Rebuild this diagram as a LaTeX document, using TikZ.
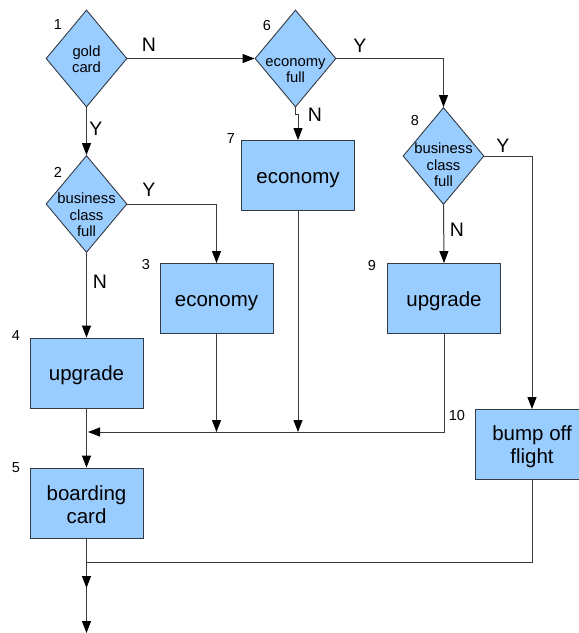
\documentclass[tikz,border=0pt]{standalone}
\usepackage{fontspec}
\setmainfont{Liberation Sans}
\usetikzlibrary{shapes.geometric,arrows.meta}
\definecolor{boxfill}{HTML}{99CCFF}
\definecolor{boxline}{HTML}{333A44}
\definecolor{conn}{HTML}{3A3A3A}
\tikzset{
  stepbox/.style={rectangle, draw=boxline, line width=0.9pt, fill=boxfill,
    minimum width=113pt, minimum height=70pt, inner sep=0pt},
  btext/.style={align=center, inner sep=0pt, font=\fontsize{20.5}{23}\selectfont},
  decision/.style={diamond, draw=boxline, line width=0.9pt, fill=boxfill,
    minimum width=81pt, minimum height=97pt, inner sep=0pt},
  dtext/.style={align=center, inner sep=0pt, font=\fontsize{14.8}{16.3}\selectfont},
  numlbl/.style={inner sep=0pt, font=\fontsize{14.5}{16}\selectfont},
  yn/.style={inner sep=0pt, font=\fontsize{19.5}{22}\selectfont},
  conn/.style={draw=conn, line width=1pt},
  arr/.style={conn, -{Triangle[length=12pt,width=9pt,color=black]}},
}
\begin{document}
\begin{tikzpicture}[x=1pt,y=-1pt]
\useasboundingbox (0,0) rectangle (579,633);
\clip (0,0) rectangle (579,633);
% decisions
\node[decision, label={[dtext,yshift=-1pt]center:{gold\\card}}] (d1) at (86.5,58.5) {};
\node[decision, label={[dtext,yshift=-12pt]center:{economy\\full}}] (d6) at (295.5,58.5) {};
\node[decision, label={[dtext,yshift=-11pt]center:{business\\class\\full}}] (d2) at (86.5,204) {};
\node[decision, label={[dtext,yshift=-9pt]center:{business\\class\\full}}] (d8) at (443.5,156) {};
% boxes
\node[stepbox, label={[btext,yshift=-4.5pt]center:{economy}}] (b7) at (298,175.5) {};
\node[stepbox, label={[btext,yshift=-4.5pt]center:{economy}}] (b3) at (216.5,298.5) {};
\node[stepbox, label={[btext,yshift=-2.5pt]center:{upgrade}}] (b4) at (86.5,373) {};
\node[stepbox, label={[btext,yshift=-2.5pt]center:{upgrade}}] (b9) at (444,298.5) {};
\node[stepbox, label={[btext,yshift=-2pt]center:{boarding\\card}}] (b5) at (86.5,503) {};
\node[stepbox, label={[btext,yshift=-2pt]center:{bump off\\flight}}] (bump) at (532,444.5) {};
% number labels
\node[numlbl] (n1) at (58,25) {1};
\node[numlbl] (n2) at (58,172) {2};
\node[numlbl] (n3) at (146,265) {3};
\node[numlbl] (n4) at (16,336) {4};
\node[numlbl] (n5) at (16,468) {5};
\node[numlbl] (n6) at (267,26) {6};
\node[numlbl] (n7) at (231,139) {7};
\node[numlbl] (n8) at (415,121) {8};
\node[numlbl] (n9) at (372,266) {9};
\node[numlbl] (n10) at (457,416) {10};
% Y/N labels
\node[yn] (y1) at (96,129) {Y};
\node[yn] (nn1) at (149,45) {N};
\node[yn] (y6) at (360,46) {Y};
\node[yn] (nn6) at (315,115) {N};
\node[yn] (y2) at (149,190) {Y};
\node[yn] (nn2) at (100,282) {N};
\node[yn] (y8) at (503,146) {Y};
\node[yn] (nn8) at (457,230) {N};
% coordinates
\coordinate (j) at (88,432);
\coordinate (j2) at (86.5,562);
\coordinate (e2) at (86.5,588);
\coordinate (bot) at (86.5,633);
% connectors
\draw[arr] (d1.south) -- (d2.north);
\draw[arr] (d1.east) -- (d6.west);
\draw[arr] (d6.east) -| (d8.north);
\draw[arr] (d6.south) -- ++(0,7) -| (b7.north);
\draw[arr] (d2.east) -| (b3.north);
\draw[arr] (d2.south) -- (b4.north);
\draw[arr] (d8.east) -| (bump.north);
\draw[arr] (d8.south) -- (b9.north);
\draw[arr] (b3.south) -- (b3.south |- j);
\draw[arr] (b7.south) -- (b7.south |- j);
\draw[arr] (b9.south) |- (j);
\draw[arr] (b4.south) -- (b5.north);
\draw[arr] (b5.south) -- (bot);
\draw[arr] (bump.south) |- (j2) -- (e2);
\end{tikzpicture}
\end{document}
